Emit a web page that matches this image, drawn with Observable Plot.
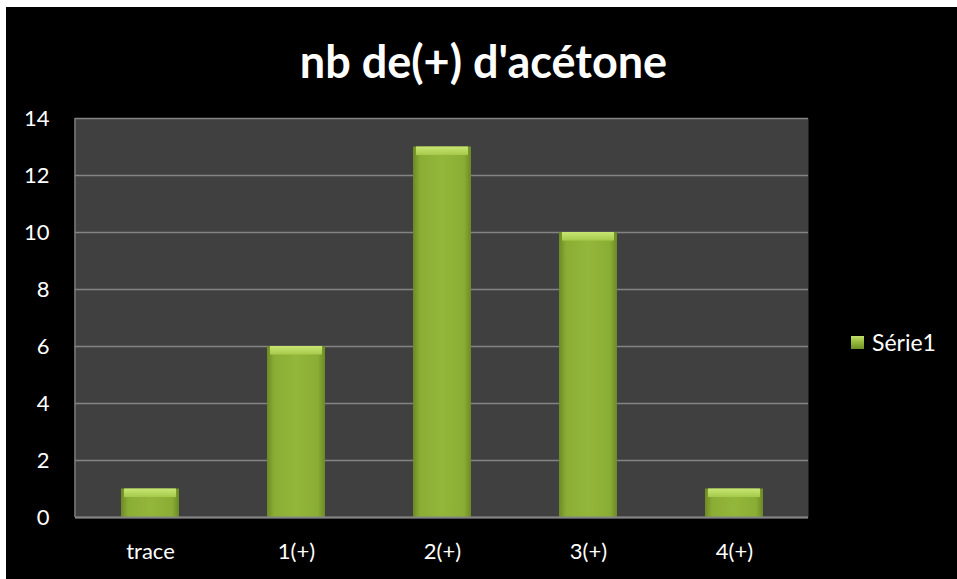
<!DOCTYPE html>
<html><head><meta charset="utf-8">
<script src="https://cdn.jsdelivr.net/npm/d3@7"></script>
<script src="https://cdn.jsdelivr.net/npm/@observablehq/plot@0.6"></script>
<style>
html,body{margin:0;padding:0;background:#fff;}
#frame{position:absolute;left:6px;top:7px;width:951px;height:572px;background:#000;font-family:Lato,"Open Sans",sans-serif;color:#fff;}
#title{height:80px;text-align:center;font-weight:bold;font-size:45px;line-height:108px;padding-left:4px;box-sizing:border-box;white-space:nowrap;}
#legend{position:absolute;left:845px;top:321px;font-size:23px;display:flex;align-items:center;}
#legend .sw{width:13px;height:13px;margin-right:8px;background:linear-gradient(180deg,#c2e06a 0%,#97bb3c 45%,#6f8f27 100%);}
</style></head>
<body>
<div id="frame">
  <div id="title">nb de(+) d'acétone</div>
  <div id="chart"></div>
  <div id="legend"><div class="sw"></div><span>Série1</span></div>
</div>
<script>
const categories = ["trace", "1(+)", "2(+)", "3(+)", "4(+)"];
const values = [1, 6, 13, 10, 1];
const yTicks = [0, 2, 4, 6, 8, 10, 12, 14];
const seriesName = "Série1";

const data = categories.map((c, i) => ({cat: c, v: values[i]}));

const chart = Plot.plot({
  width: 951,
  height: 492,
  marginLeft: 69,
  marginRight: 149,
  marginTop: 31,
  marginBottom: 62,
  style: {background: "transparent", color: "#fff", fontFamily: "Lato, 'Open Sans', sans-serif"},
  x: {domain: categories, paddingInner: 0.605, paddingOuter: 0.3025, align: 0.5},
  y: {domain: [0, 14]},
  marks: [
    () => {
      const ns = "http://www.w3.org/2000/svg";
      const defs = document.createElementNS(ns, "defs");
      defs.innerHTML = `
        <linearGradient id="barGrad" x1="0" x2="1" y1="0" y2="0">
          <stop offset="0" stop-color="#6c8a25"/>
          <stop offset="0.12" stop-color="#8aad34"/>
          <stop offset="0.5" stop-color="#93b73a"/>
          <stop offset="0.88" stop-color="#8aad34"/>
          <stop offset="1" stop-color="#6c8a25"/>
        </linearGradient>
        <linearGradient id="capGrad" x1="0" x2="0" y1="0" y2="1">
          <stop offset="0" stop-color="#c8e674"/>
          <stop offset="1" stop-color="#a6c94a"/>
        </linearGradient>`;
      return defs;
    },
    Plot.frame({fill: "#404040", stroke: null}),
    Plot.gridY(yTicks, {stroke: "#848484", strokeOpacity: 1, strokeWidth: 1.5}),
    (index, scales, values, dims) => {
      const ns = "http://www.w3.org/2000/svg";
      const l = document.createElementNS(ns, "line");
      l.setAttribute("x1", dims.marginLeft);
      l.setAttribute("x2", dims.marginLeft);
      l.setAttribute("y1", dims.marginTop);
      l.setAttribute("y2", dims.height - dims.marginBottom);
      l.setAttribute("stroke", "#848484");
      l.setAttribute("stroke-width", 1.5);
      return l;
    },
    Plot.barY(data, {x: "cat", y: "v", fill: "url(#barGrad)"}),
    Plot.rectY(data, {x: "cat", y1: d => d.v - 0.3, y2: "v", fill: "url(#capGrad)", insetLeft: 3, insetRight: 3}),
    Plot.ruleY([0], {stroke: "#848484", strokeWidth: 2}),
    Plot.axisX({label: null, tickSize: 0, tickPadding: 26, fontSize: 22, fill: "#fff"}),
    Plot.axisY(yTicks, {label: null, tickSize: 0, tickPadding: 26, fontSize: 22, fill: "#fff"})
  ]
});
document.getElementById("chart").appendChild(chart);
</script>
</body></html>
